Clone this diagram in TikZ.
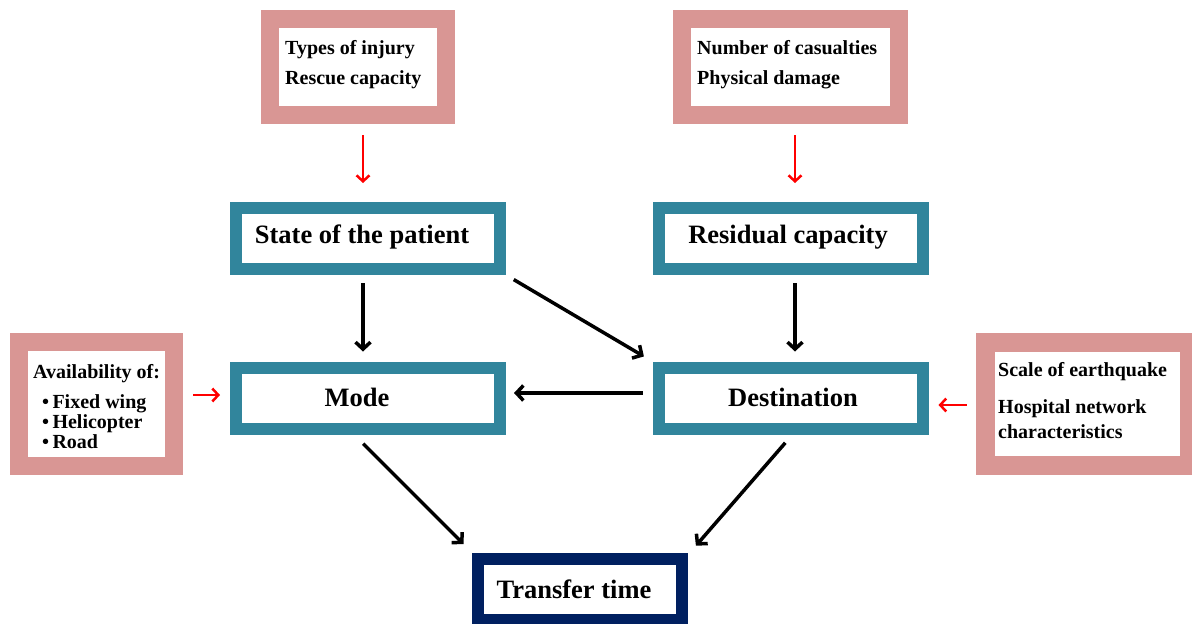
\documentclass[tikz,border=0pt]{standalone}
\usepackage{fontspec}
\setmainfont{Liberation Serif}
\usetikzlibrary{arrows.meta}
\definecolor{pinkb}{HTML}{D99694}
\definecolor{tealb}{HTML}{31859C}
\definecolor{navyb}{HTML}{002060}
\begin{document}
\begin{tikzpicture}[x=1pt,y=-1pt,
  pinkbox/.style={draw=pinkb,line width=18pt,fill=white,inner sep=0pt},
  tealbox/.style={draw=tealb,line width=12pt,fill=white,inner sep=0pt,minimum width=264pt,minimum height=61pt},
  navybox/.style={draw=navyb,line width=12pt,fill=white,inner sep=0pt,minimum width=204pt,minimum height=61pt},
  bigtxt/.style={font=\bfseries\fontsize{26.5}{28}\selectfont,inner sep=0pt},
  smalltxt/.style={font=\bfseries\fontsize{20}{30}\selectfont,align=left,inner sep=0pt,anchor=west},
  listtxt/.style={font=\bfseries\fontsize{20}{20}\selectfont,align=left,inner sep=0pt},
  blackarr/.style={line width=3.5pt,-{Straight Barb[length=7pt,width=15pt]}},
  redarr/.style={red,line width=2.5pt,-{Straight Barb[length=6pt,width=13pt]}}]
\useasboundingbox (0,0) rectangle (1192,624);
% pink boxes
\node[pinkbox,minimum width=176pt,minimum height=96pt] (tl) at (358,67) {};
\node[smalltxt] (tltxt) at (285,65) {Types of injury\\Rescue capacity};
\node[pinkbox,minimum width=217pt,minimum height=96pt] (tr) at (790.5,67) {};
\node[smalltxt] (trtxt) at (697,65) {Number of casualties\\Physical damage};
\node[pinkbox,minimum width=155pt,minimum height=124pt] (lb) at (96.5,404) {};
\node[listtxt,anchor=west] (lbtitle) at (33,374) {Availability of:};
\node[listtxt,anchor=north west] (lblist) at (42,394) {\textbullet\,Fixed wing\\\textbullet\,Helicopter\\\textbullet\,Road};
\fill[pinkb] (976,333) rectangle (1192,475);
\node[inner sep=0pt,minimum width=185pt,minimum height=104pt,fill=white] (rb) at (1087.5,404) {};
\node[listtxt,anchor=west] (rbtop) at (998,372) {Scale of earthquake};
\node[font=\bfseries\fontsize{20}{25}\selectfont,align=left,inner sep=0pt,anchor=north west] (rbbot) at (998,399) {Hospital network\\characteristics};
% teal boxes
\node[tealbox] (sp) at (368,238.5) {};
\node[bigtxt] (sptxt) at (362,237) {State of the patient};
\node[tealbox] (rc) at (790.5,238.5) {};
\node[bigtxt] (rctxt) at (788,237) {Residual capacity};
\node[tealbox] (mode) at (368,398) {};
\node[bigtxt] (modetxt) at (357,397) {Mode};
\node[tealbox] (dest) at (790.5,398) {};
\node[bigtxt] (desttxt) at (793,397) {Destination};
\node[navybox] (tt) at (580,589) {};
\node[bigtxt] (tttxt) at (574,589) {Transfer time};
% red arrows
\draw[redarr,shorten <=11pt,shorten >=19pt] ([xshift=5pt]tl.south) -- ([xshift=-5pt]sp.north);
\draw[redarr,shorten <=11pt,shorten >=19pt] ([xshift=4.5pt]tr.south) -- ([xshift=4.5pt]rc.north);
\draw[redarr,shorten <=10pt,shorten >=10pt] ([yshift=3pt]mode.west -| lb.east) -- ([yshift=3pt]mode.west);
\draw[redarr,shorten <=9pt,shorten >=10pt] ([yshift=-1pt]rb.west) ++(-19pt,0) -- ([yshift=-7pt]dest.east);
% black arrows
\draw[blackarr,shorten <=8pt,shorten >=10pt] ([xshift=-5pt]sp.south) -- ([xshift=-5pt]mode.north);
\draw[blackarr,shorten <=8pt,shorten >=10pt] ([xshift=4.5pt]rc.south) -- ([xshift=4.5pt]dest.north);
\draw[blackarr,shorten <=9pt,shorten >=10pt] (sp.south east) -- (dest.north west);
\draw[blackarr,shorten <=10pt,shorten >=8pt] ([yshift=5pt]dest.west) -- ([yshift=5pt]mode.east);
\draw[blackarr,shorten <=13pt,shorten >=12pt] ([xshift=-14pt]mode.south) -- (tt.north west);
\draw[blackarr,shorten <=11pt,shorten >=9pt] ([xshift=2pt]dest.south) -- ([xshift=2pt]tt.north east);
\end{tikzpicture}
\end{document}
